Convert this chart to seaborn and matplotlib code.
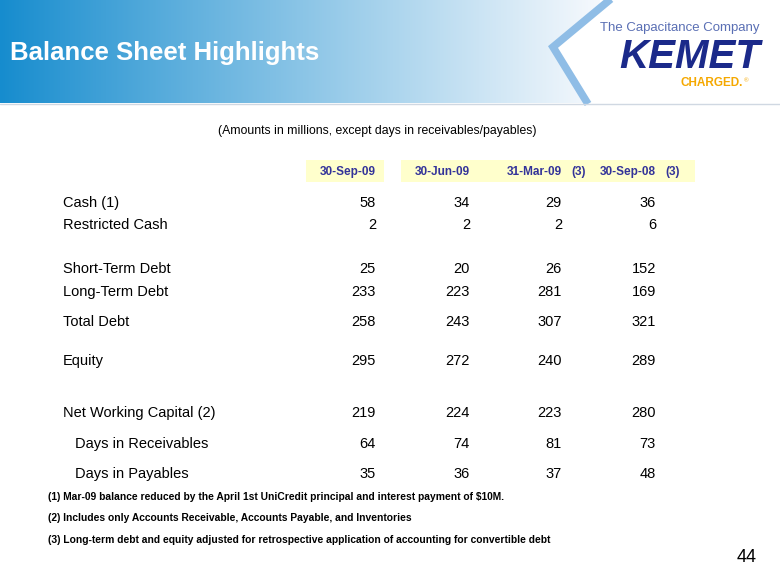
import numpy as np
import matplotlib
matplotlib.use("Agg")
import matplotlib.pyplot as plt
from matplotlib.patches import Rectangle, Polygon
import seaborn as sns

sns.set_theme(style="white")
plt.rcParams['font.family'] = ['Liberation Sans', 'DejaVu Sans']

title = "Balance Sheet Highlights"
subtitle = "(Amounts in millions, except days in receivables/payables)"
periods = ["30-Sep-09", "30-Jun-09", "31-Mar-09", "30-Sep-08"]
period_notes = ["", "", "(3)", "(3)"]
row_labels = ["Cash (1)", "Restricted Cash", "Short-Term Debt", "Long-Term Debt",
              "Total Debt", "Equity", "Net Working Capital (2)",
              "Days in Receivables", "Days in Payables"]
col_sep09 = [58, 2, 25, 233, 258, 295, 219, 64, 35]
col_jun09 = [34, 2, 20, 223, 243, 272, 224, 74, 36]
col_mar09 = [29, 2, 26, 281, 307, 240, 223, 81, 37]
col_sep08 = [36, 6, 152, 169, 321, 289, 280, 73, 48]
footnotes = [
    "(1) Mar-09 balance reduced by the April 1st UniCredit principal and interest payment of $10M.",
    "(2) Includes only Accounts Receivable, Accounts Payable, and Inventories",
    "(3) Long-term debt and equity adjusted for retrospective application of accounting for convertible debt",
]
page = "44"

W, H = 780, 585
fig = plt.figure(figsize=(7.8, 5.85), dpi=100)
ax = fig.add_axes([0, 0, 1, 1])
ax.set_xlim(0, W)
ax.set_ylim(H, 0)
ax.axis("off")

# banner gradient
bh = 103
xs = np.linspace(0, 1, 400)
c0 = np.array([22, 140, 206]) / 255
c1 = np.array([246, 249, 253]) / 255
t = np.clip(xs, 0, 1) ** 0.95
img = (c0[None, :] * (1 - t[:, None]) + c1[None, :] * t[:, None])[None, :, :]
ax.imshow(img, extent=[0, 600, bh, 0], aspect="auto", zorder=0)
# white area right of chevron
ax.add_patch(Polygon([[610, 0], [W, 0], [W, bh], [587, bh], [552, 47]],
                     closed=True, facecolor="white", edgecolor="none", zorder=1))
# chevron stroke
ax.plot([612, 553, 588], [-2, 47, bh + 1], color="#8fbde6", lw=5.5,
        solid_capstyle="butt", solid_joinstyle="miter", zorder=2)
ax.plot([0, W], [bh + 0.5, bh + 0.5], color="#d0d8e2", lw=1, zorder=2)

ax.text(10, 53, title, color="white", fontsize=18.5, fontweight="bold",
        va="center", ha="left", zorder=3)

# logo
ax.text(760, 28, "The Capacitance Company", color="#5a6fb4", fontsize=9.5,
        ha="right", va="center", zorder=3)
ax.text(760, 68, "KEMET", color="#1b2a8a", fontsize=29, fontweight="heavy",
        fontstyle="italic", ha="right", va="baseline", zorder=3)
ax.text(743, 83, "CHARGED.", color="#f5a800", fontsize=8.5, fontweight="bold",
        ha="right", va="center", zorder=3)
ax.text(744, 81, "®", color="#f5a800", fontsize=4.5, ha="left", va="center", zorder=3)

# subtitle
ax.text(377, 131, subtitle, color="black", fontsize=8.8, ha="center", va="center")

row_y = [203, 225, 269, 292, 322, 361, 413, 444, 474]
label_x = [63, 63, 63, 63, 63, 63, 63, 75, 75]
col_right = [376, 470, 562, 656]
cols = [col_sep09, col_jun09, col_mar09, col_sep08]

# header boxes
ax.add_patch(Rectangle((306, 160), 78, 22, facecolor="#ffffcc", edgecolor="none"))
ax.add_patch(Rectangle((401, 160), 294, 22, facecolor="#ffffcc", edgecolor="none"))
for xr, p, n in zip(col_right, periods, period_notes):
    ax.text(xr, 172, p, color="#333399", fontsize=8.5, fontweight="bold",
            ha="right", va="center")
    if n:
        ax.text(xr + 9, 172, n, color="#333399", fontsize=8.5, fontweight="bold",
                ha="left", va="center")

for y, lx, lab in zip(row_y, label_x, row_labels):
    ax.text(lx, y, lab, fontsize=10.5, color="black", ha="left", va="center")
for xr, col in zip(col_right, cols):
    for y, v in zip(row_y, col):
        ax.text(xr, y, f"{v}", fontsize=10.5, color="black", ha="right", va="center")

for y, fn in zip([497, 518, 540], footnotes):
    ax.text(48, y, fn, fontsize=7.4, fontweight="bold", color="black", ha="left", va="center")

ax.text(757, 557, page, fontsize=13, color="black", ha="right", va="center")

fig.savefig("out.png", dpi=100)
